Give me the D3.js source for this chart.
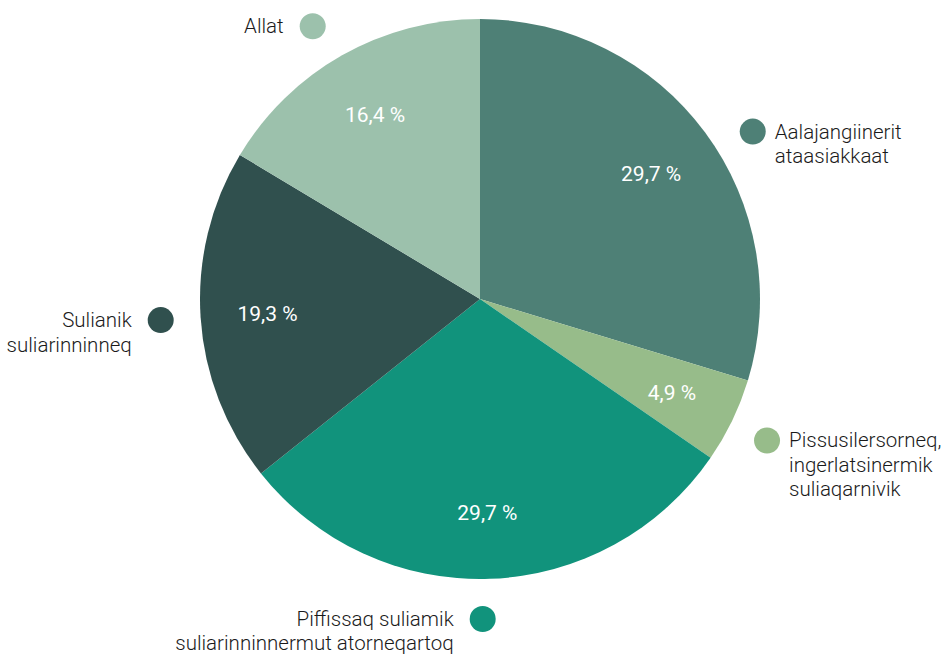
<!doctype html>
<html>
<head>
<meta charset="utf-8">
<script src="https://d3js.org/d3.v7.min.js"></script>
<style>
    body { margin: 0; background: #fff; }
    text { font-family: Roboto, "Open Sans", sans-serif; }
</style>
</head>
<body>
<svg id="chart" width="947" height="658"></svg>
<script>
// slices, clockwise from 12 o'clock
var categories = [
    ["Aalajangiinerit", "ataasiakkaat"],
    ["Pissusilersorneq,", "ingerlatsinermik", "suliaqarnivik"],
    ["Piffissaq suliamik", "suliarinninnermut atorneqartoq"],
    ["Sulianik", "suliarinninneq"],
    ["Allat"]
];
var values = [29.7, 4.9, 29.7, 19.3, 16.4];
var colors = ["#4e8076", "#97bc8a", "#11937c", "#30504e", "#9cc1ac"];

var svg = d3.select("#chart"),
    cx = 480, cy = 299,
    radius = 280;

var g = svg.append("g").attr("transform", "translate(" + cx + "," + cy + ")");

var pie = d3.pie().sort(null).value(function(d) { return d; });
var arcs = pie(values);

var arc = d3.arc().innerRadius(0).outerRadius(radius);
var labelArc = d3.arc().innerRadius(213).outerRadius(213);
var legendR = 320;
// small hand nudges (degrees) so the legend dots sit where the original puts them
var legendShift = [5, 0.5, 1.5, 0, -2];

g.selectAll("path.slice")
    .data(arcs)
    .enter().append("path")
    .attr("class", "slice")
    .attr("d", arc)
    .attr("fill", function(d, i) { return colors[i]; });

// percentages inside slices
g.selectAll("text.pct")
    .data(arcs)
    .enter().append("text")
    .attr("class", "pct")
    .attr("transform", function(d) { return "translate(" + labelArc.centroid(d) + ")"; })
    .attr("text-anchor", "middle")
    .attr("dy", "0.4em")
    .attr("fill", "#fff")
    .attr("font-size", "21px")
    .text(function(d) { return d3.format(".1f")(d.value).replace(".", ",") + " %"; });

// legend dots + names around the pie
var legend = g.selectAll("g.legend")
    .data(arcs)
    .enter().append("g")
    .attr("class", "legend")
    .attr("transform", function(d, i) {
        var a = (d.startAngle + d.endAngle) / 2 + legendShift[i] * Math.PI / 180;
        return "translate(" + (legendR * Math.sin(a)) + "," + (-legendR * Math.cos(a)) + ")";
    });

legend.append("circle")
    .attr("r", 13)
    .attr("fill", function(d, i) { return colors[i]; });

legend.each(function(d, i) {
    var mid = (d.startAngle + d.endAngle) / 2;
    var right = Math.sin(mid) > 0.2;
    var t = d3.select(this).append("text")
        .attr("text-anchor", right ? "start" : "end")
        .attr("font-size", "20.5px")
        .attr("font-weight", 300)
        .attr("fill", "#1a1a1a");
    t.selectAll("tspan")
        .data(categories[i])
        .enter().append("tspan")
        .attr("x", right ? 22 : -29)
        .attr("y", function(s, j) { return 7 + j * 24.5; })
        .text(function(s) { return s; });
});
</script>
</body>
</html>
